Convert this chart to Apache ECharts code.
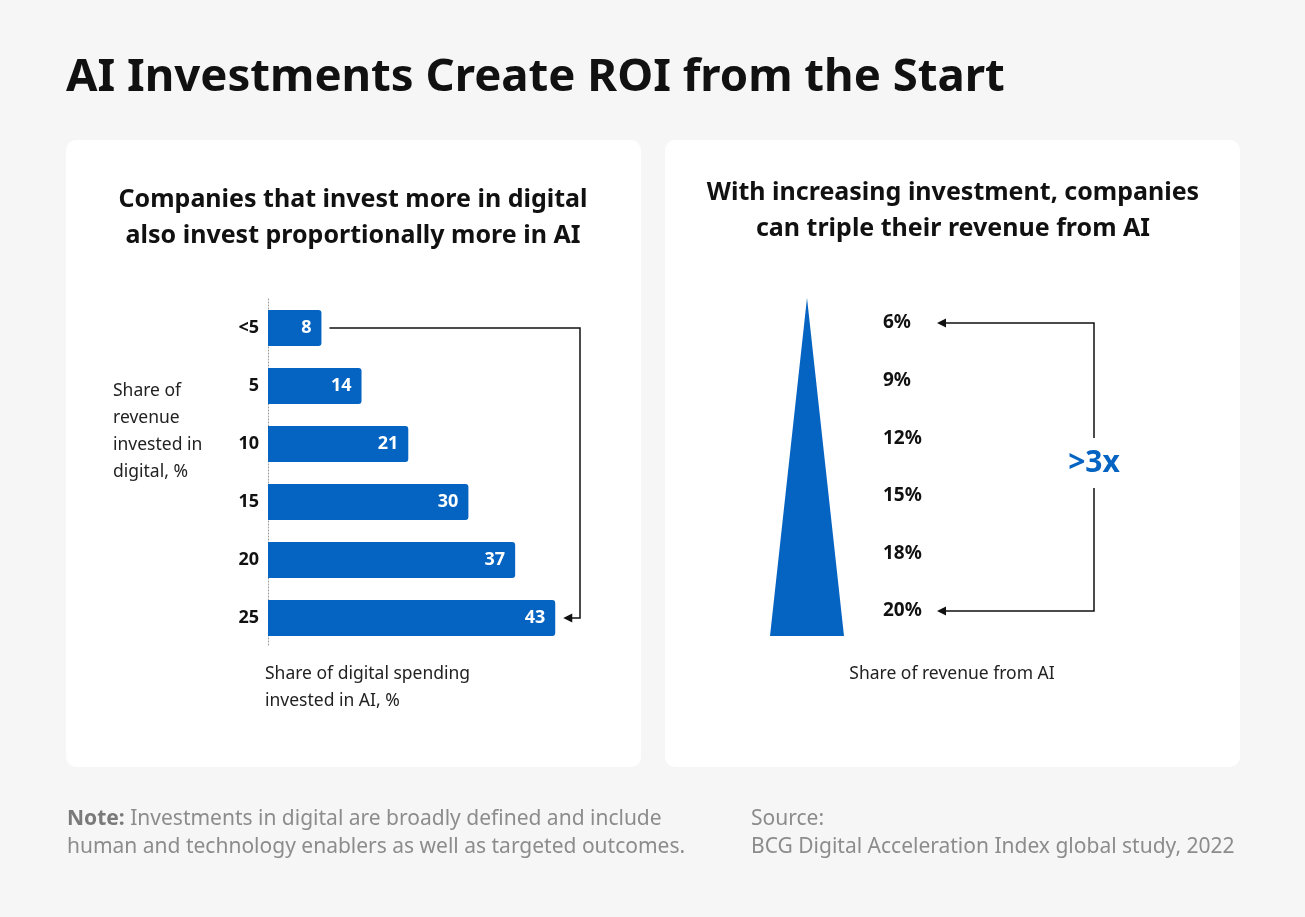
<!DOCTYPE html>
<html><head><meta charset="utf-8">
<script src="https://cdn.jsdelivr.net/npm/echarts@6/dist/echarts.min.js"></script>
<style>html,body{margin:0;padding:0;background:#f6f6f6}#c{width:1305px;height:917px}</style>
</head><body><div id="c"></div>
<script>
// ---- data ----
const digitalCategories = ['<5', '5', '10', '15', '20', '25'];
const aiSpendShare = [8, 14, 21, 30, 37, 43];
const revenueLabels = ['6%', '9%', '12%', '15%', '18%', '20%'];
const revenuePeak = [20];
const multiplierText = '>3x';
const titleText = 'AI Investments Create ROI from the Start';
const leftSubtitle = ['Companies that invest more in digital', 'also invest proportionally more in AI'];
const rightSubtitle = ['With increasing investment, companies', 'can triple their revenue from AI'];
const yAxisName = ['Share of', 'revenue', 'invested in', 'digital, %'];
const xAxisName = ['Share of digital spending', 'invested in AI, %'];
const rightAxisName = 'Share of revenue from AI';
const noteText = ['Investments in digital are broadly defined and include', 'human and technology enablers as well as targeted outcomes.'];
const sourceText = ['Source:', 'BCG Digital Acceleration Index global study, 2022'];

const FONT = '"Noto Sans", Lato, sans-serif';
const BLUE = '#0563c1';
const chart = echarts.init(document.getElementById('c'), null, {renderer: 'canvas'});

chart.setOption({
  backgroundColor: '#f6f6f6',
  animation: false,
  textStyle: {fontFamily: FONT},
  grid: [
    {left: 268, top: 299, width: 334, height: 348},
    {left: 950, top: 294.2, width: 100, height: 345.6},
    {left: 770, top: 298, width: 74, height: 338}
  ],
  xAxis: [
    {gridIndex: 0, type: 'value', min: 0, max: 50, show: false},
    {gridIndex: 1, type: 'value', min: 0, max: 1, show: false},
    {gridIndex: 2, type: 'category', data: ['AI'], show: false}
  ],
  yAxis: [
    {gridIndex: 0, type: 'category', inverse: true, data: digitalCategories,
     axisLine: {show: true, lineStyle: {color: '#9a9a9a', type: [1, 2], width: 1}},
     axisTick: {show: false},
     axisLabel: {margin: 9, color: '#111', fontWeight: 'bold', fontSize: 18, fontFamily: FONT}},
    {gridIndex: 1, type: 'category', inverse: true, data: revenueLabels,
     axisLine: {show: false}, axisTick: {show: false},
     axisLabel: {align: 'left', margin: 67, color: '#111', fontWeight: 'bold', fontSize: 19, fontFamily: FONT}},
    {gridIndex: 2, type: 'value', min: 0, max: 20, show: false}
  ],
  series: [
    {type: 'bar', xAxisIndex: 0, yAxisIndex: 0, data: aiSpendShare, barWidth: 36,
     itemStyle: {color: BLUE, borderRadius: [0, 3, 3, 0]},
     label: {show: true, position: 'insideRight', distance: 10, color: '#fff', fontWeight: 'bold', fontSize: 18, fontFamily: FONT}},
    {type: 'scatter', xAxisIndex: 1, yAxisIndex: 1, data: revenueLabels.map(l => [0, l]), symbolSize: 0, silent: true},
    {type: 'pictorialBar', xAxisIndex: 2, yAxisIndex: 2, data: revenuePeak, symbol: 'triangle',
     symbolSize: ['100%', '100%'], barWidth: 74, symbolPosition: 'start', itemStyle: {color: BLUE}}
  ]
});

// ---- annotations positioned from the axes ----
const p = (g, v) => chart.convertToPixel({gridIndex: g}, v);
const first = p(0, [aiSpendShare[0], 0]);
const last = p(0, [aiSpendShare[aiSpendShare.length - 1], aiSpendShare.length - 1]);
const r0 = p(1, [0, 0]);
const rN = p(1, [0, revenueLabels.length - 1]);
const r2 = p(1, [0, 2]), r3 = p(1, [0, 3]);
const gridRightLeft = r0[0];

function T(x, y, text, font, fill, align, extra) {
  return {type: 'text', z: 10, style: Object.assign({x, y, text, font, fill, textAlign: align || 'left', textVerticalAlign: 'middle'}, extra || {})};
}
function line(points, w) {
  return {type: 'polyline', z: 10, shape: {points}, style: {stroke: '#111', lineWidth: w || 1.5, fill: null}};
}
function headLeft(tx, ty) {
  return {type: 'polygon', z: 10, shape: {points: [[tx, ty], [tx + 9, ty - 4.5], [tx + 9, ty + 4.5]]}, style: {fill: '#111'}};
}

const g = [];
// cards
g.push({type: 'rect', z: -10, shape: {x: 66, y: 140, width: 575, height: 627, r: 10}, style: {fill: '#fff'}});
g.push({type: 'rect', z: -10, shape: {x: 665, y: 140, width: 575, height: 627, r: 10}, style: {fill: '#fff'}});
// title
g.push(T(66, 78, titleText, `bold 45.5px ${FONT}`, '#111'));
// subtitles
leftSubtitle.forEach((t, i) => g.push(T(353, 200 + i * 36, t, `bold 25px ${FONT}`, '#111', 'center')));
rightSubtitle.forEach((t, i) => g.push(T(953, 193 + i * 36, t, `bold 25px ${FONT}`, '#111', 'center')));
// axis names
yAxisName.forEach((t, i) => g.push(T(113, 391 + i * 27, t, `17.5px ${FONT}`, '#222')));
xAxisName.forEach((t, i) => g.push(T(265, 674 + i * 27, t, `17.5px ${FONT}`, '#222')));
g.push(T(952, 674, rightAxisName, `17.5px ${FONT}`, '#222', 'center'));
// left connector
const lx = 580;
g.push(line([[first[0] + 8, first[1]], [lx, first[1]], [lx, last[1]], [last[0] + 16, last[1]]]));
g.push(headLeft(last[0] + 8, last[1]));
// right connector
const vx = gridRightLeft + 144, tipX = gridRightLeft - 13;
const mid = (r2[1] + r3[1]) / 2 - 4;
g.push(line([[tipX + 8, r0[1]], [vx, r0[1]], [vx, mid - 25]]));
g.push(line([[vx, mid + 25], [vx, rN[1]], [tipX + 8, rN[1]]]));
g.push(headLeft(tipX, r0[1]));
g.push(headLeft(tipX, rN[1]));
g.push(T(vx, mid, multiplierText, `bold 30px ${FONT}`, BLUE, 'center'));
// footer
g.push({type: 'text', z: 10, style: {x: 67, y: 819, textVerticalAlign: 'middle',
  text: '{b|Note:} ' + noteText[0], font: `21px ${FONT}`, fill: '#8c8c8c',
  rich: {b: {font: `bold 21px ${FONT}`, fill: '#7a7a7a'}}}});
g.push(T(67, 847, noteText[1], `21px ${FONT}`, '#8c8c8c'));
sourceText.forEach((t, i) => g.push(T(751, 819 + i * 28, t, `21px ${FONT}`, '#8c8c8c')));

chart.setOption({graphic: {elements: g}});
</script>
</body></html>
